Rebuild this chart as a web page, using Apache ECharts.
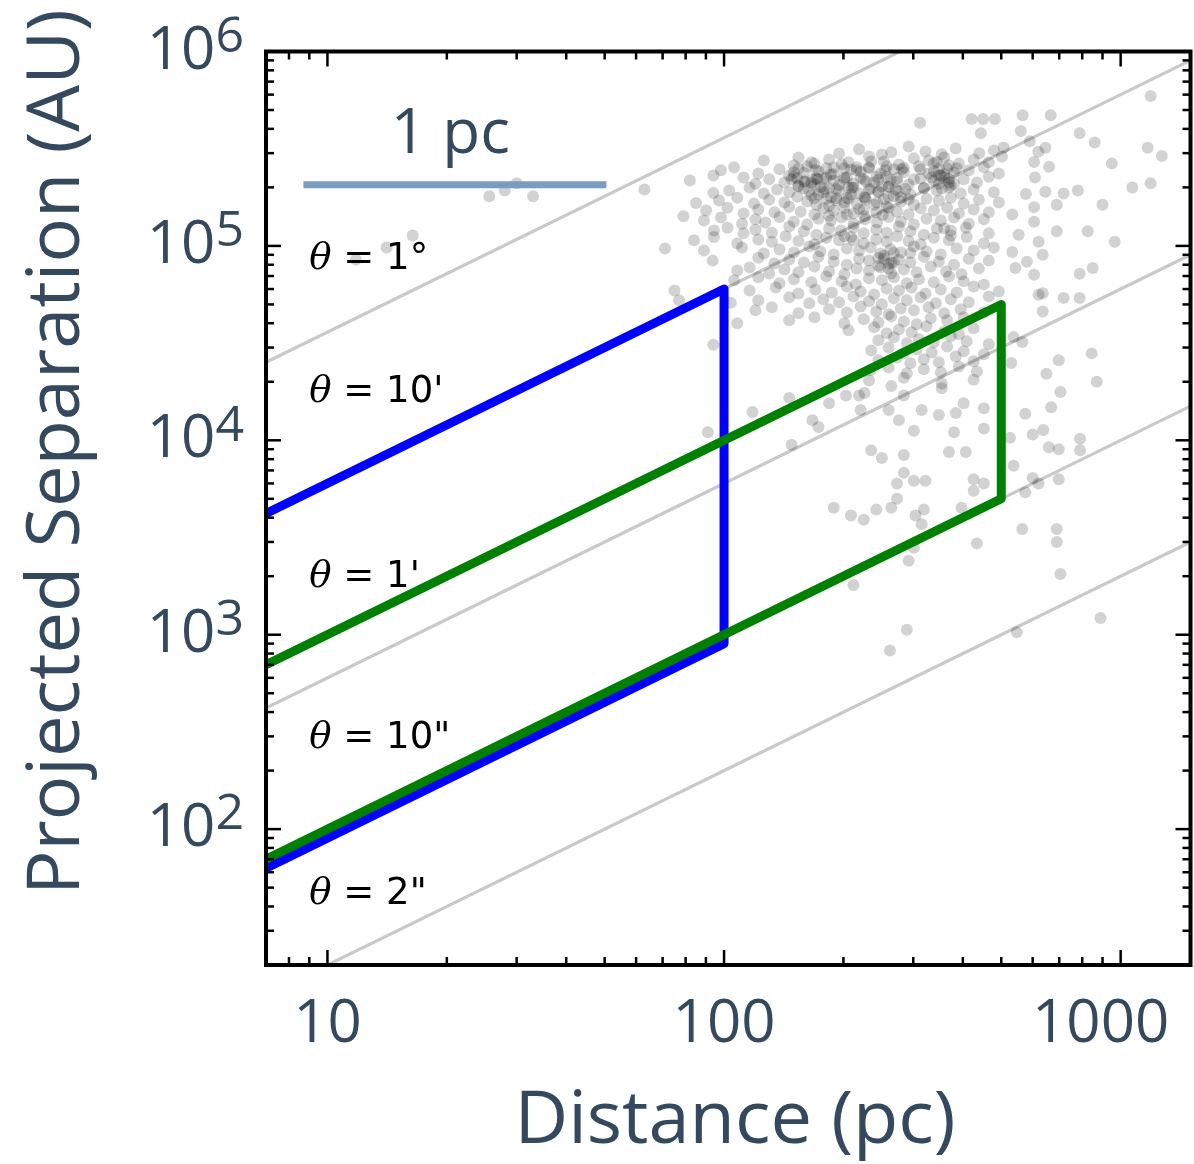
<!DOCTYPE html>
<html><head><meta charset="utf-8">
<script src="https://cdn.jsdelivr.net/npm/echarts@6/dist/echarts.min.js"></script>
<style>html,body{margin:0;padding:0;background:#fff}#c{width:1194px;height:1164px}</style>
</head><body><div id="c"></div>
<script>
// ---- axis ranges and ticks ----
const X_MIN = 7, X_MAX = 1500, Y_MIN = 20, Y_MAX = 1e6;
const xMajorTicks = [10, 100, 1000];
const xTickLabels = ['10', '100', '1000'];
const xMinorTicks = [7, 8, 9, 20, 30, 40, 50, 60, 70, 80, 90, 200, 300, 400, 500, 600, 700, 800, 900];
const yMajorTicks = [1e2, 1e3, 1e4, 1e5, 1e6];
const yTickExponents = ['2', '3', '4', '5', '6'];
const yMinorTicks = [20, 30, 40, 50, 60, 70, 80, 90, 200, 300, 400, 500, 600, 700, 800, 900,
  2000, 3000, 4000, 5000, 6000, 7000, 8000, 9000, 2e4, 3e4, 4e4, 5e4, 6e4, 7e4, 8e4, 9e4,
  2e5, 3e5, 4e5, 5e5, 6e5, 7e5, 8e5, 9e5];

// ---- constant-angle reference lines (distance pc, separation AU) ----
const angleLabels = ['1°', "10'", "1'", '10"', '2"'];
const angleLines = [
  [[7, 25200], [1500, 5.4e6]],
  [[7, 4200], [1500, 9.0e5]],
  [[7, 420], [1500, 9.0e4]],
  [[7, 70], [1500, 1.5e4]],
  [[7, 14], [1500, 3000]]
];
const angleLabelPos = [[9.0, 8.52e4], [9.0, 1.77e4], [9.0, 1976], [9.0, 294], [9.0, 46.3]];

// ---- survey boxes ----
const blueBox = [[7, 4200], [100, 6.0e4], [100, 900], [7, 63]];
const greenBox = [[7, 700], [500, 5.0e4], [500, 5000], [7, 70]];

// ---- 1 pc scale bar ----
const scaleBar = [[8.7, 206265], [50.5, 206265]];
const scaleLabel = '1 pc';
const scaleLabelPos = [[20.4, 3.7e5]];

// ---- stars: [distance pc, projected separation AU] ----
const starPairs = [
[1190,5.9e5],[312,4.3e5],[421,4.5e5],[450,4.5e5],[482,4.5e5],[566,4.7e5],[666,4.7e5],[444,3.8e5],[788,3.8e5],[860,3.4e5],[1170,3.2e5],[1270,2.9e5],[950,2.65e5],[1190,2.1e5],[1070,2.0e5],[718,1.86e5],[780,1.93e5],[900,1.63e5],[690,1.63e5],[826,1.19e5],[690,1.19e5],[966,1.05e5],[850,7.7e4],[788,7.2e4],[788,5.4e4],[718,5.4e4],[636,5.7e4],
[560,3.9e5],[590,3.45e5],[620,3.05e5],[646,3.2e5],[605,2.7e5],[660,2.55e5],[608,2.25e5],[646,1.9e5],[577,1.85e5],[605,1.58e5],[533,1.45e5],[605,1.33e5],[553,1.14e5],[621,1.05e5],[636,9.0e4],[580,8.3e4],[605,7.1e4],[533,9.3e4],[543,7.7e4],[621,5.6e4],[636,4.6e4],
[25.6,1.8e5],[28,1.93e5],[30,2.1e5],[33,1.8e5],[16.4,1.13e5],[14.1,9.8e4],[11.8,8.5e4],
[63,1.95e5],[82,2.17e5],[94,2.3e5],[94,1.87e5],[85,1.66e5],[79,1.42e5],[71,9.7e4],[75,5.9e4],[77,5.25e4],[94,3.1e4],[108,4.0e4],[104,5.1e4],
[219,1.7e4],[226,1.75e4],[221,1.43e4],[260,1.43e4],[264,1.9e4],[284,1.7e4],[276,1.27e4],[301,1.12e4],[315,1.43e4],[348,1.35e4],[384,1.38e4],[380,1.1e4],[452,1.15e4],[452,1.46e4],[402,1.55e4],[354,1.85e4],[526,1.03e4],[575,1.37e4],[600,1.07e4],[638,1.13e4],[659,9.2e3],[698,9.0e3],[790,1.02e4],[790,8.9e3],[668,1.48e4],[705,1.77e4],[698,2.58e4],[845,2.8e4],[870,2.0e4],[650,2.2e4],[530,2.5e4],[537,3.4e4],[565,3.2e4],
[235,8.9e3],[250,8.1e3],[284,8.4e3],[369,8.7e3],[407,8.7e3],[284,6.8e3],[301,6.2e3],[322,6.2e3],[273,6.0e3],[426,6.3e3],[452,6.0e3],[426,5.5e3],[600,6.4e3],[621,6.0e3],[575,5.4e3],[698,6.3e3],[537,7.4e3],
[189,4.5e3],[209,4.1e3],[225,3.9e3],[242,4.4e3],[264,4.5e3],[273,5.0e3],[304,4.1e3],[315,3.7e3],[319,4.4e3],[397,4.5e3],[292,2.4e3],[301,2.8e3],[434,2.95e3],[565,3.5e3],[690,3.5e3],[690,3.0e3],[212,1.8e3],[705,2.05e3],[289,1.06e3],[262,830],[547,1.03e3],[890,1.22e3],
[91,1.1e4],[118,1.4e4],[146,1.65e4],[148,9.5e3],[167,1.27e4],[173,1.17e4],[184,1.55e4],[203,1.7e4],
[195,2.99e5],[219,3.14e5],[250,2.95e5],[264,3.03e5],[292,3.25e5],[322,3.06e5],[354,2.96e5],[384,3.17e5],[440,3.0e5],[479,3.1e5],[507,3.21e5],
[126,2.75e5],[154,2.85e5],[169,2.65e5],[184,2.78e5],[206,2.69e5],[232,2.88e5],[253,2.72e5],[276,2.62e5],[301,2.82e5],[328,2.75e5],[359,2.85e5],[391,2.65e5],[426,2.78e5],[465,2.69e5],[502,2.88e5],
[150,2.6e5],[166,2.69e5],[181,2.51e5],[198,2.63e5],[216,2.54e5],[235,2.72e5],[257,2.57e5],[281,2.48e5],[338,2.66e5],[369,2.6e5],
[98.2,2.45e5],[106,2.54e5],[122,2.36e5],[138,2.48e5],[150,2.39e5],[162,2.57e5],[173,2.42e5],[189,2.34e5],[201,2.51e5],[216,2.45e5],[232,2.54e5],[248,2.36e5],[268,2.48e5],[284,2.39e5],[310,2.57e5],[338,2.42e5],[359,2.34e5],[386,2.51e5],[414,2.45e5],[452,2.54e5],[493,2.36e5],
[146,2.3e5],[159,2.38e5],[171,2.22e5],[186,2.33e5],[204,2.25e5],[221,2.41e5],[242,2.27e5],[263,2.19e5],[328,2.36e5],[352,2.3e5],[380,2.38e5],
[112,2.25e5],[120,2.09e5],[130,2.2e5],[142,2.12e5],[150,2.27e5],[159,2.14e5],[169,2.07e5],[178,2.22e5],[189,2.17e5],[201,2.25e5],[212,2.09e5],[225,2.2e5],[239,2.12e5],[257,2.27e5],[273,2.14e5],[292,2.07e5],[313,2.22e5],[338,2.17e5],[359,2.25e5],[380,2.09e5],[402,2.2e5],[434,2.12e5],[465,2.27e5],
[154,2.04e5],[166,2.11e5],[179,1.97e5],[195,2.06e5],[210,1.99e5],[228,2.14e5],[250,2.02e5],[271,1.95e5],[348,2.09e5],[373,2.04e5],
[103,1.93e5],[116,2.0e5],[126,1.86e5],[136,1.95e5],[146,1.89e5],[154,2.02e5],[164,1.91e5],[173,1.84e5],[184,1.98e5],[195,1.93e5],[206,2.0e5],[219,1.86e5],[232,1.95e5],[245,1.89e5],[260,2.02e5],[276,1.91e5],[295,1.84e5],[319,1.98e5],[344,1.93e5],[369,2.0e5],[395,1.86e5],[426,1.95e5],[479,1.89e5],
[166,1.82e5],[178,1.89e5],[192,1.76e5],[209,1.84e5],[226,1.78e5],[245,1.91e5],[268,1.8e5],[292,1.74e5],
[97.1,1.71e5],[108,1.77e5],[119,1.65e5],[130,1.73e5],[142,1.67e5],[153,1.79e5],[162,1.69e5],[171,1.63e5],[181,1.75e5],[192,1.71e5],[204,1.77e5],[216,1.65e5],[228,1.73e5],[243,1.67e5],[260,1.79e5],[279,1.69e5],[301,1.63e5],[324,1.75e5],[348,1.71e5],[373,1.77e5],[402,1.65e5],[439,1.73e5],[493,1.67e5],
[184,1.61e5],[201,1.67e5],[219,1.55e5],[239,1.63e5],[260,1.57e5],
[90.1,1.52e5],[102,1.57e5],[112,1.47e5],[122,1.54e5],[134,1.49e5],[146,1.59e5],[156,1.5e5],[169,1.45e5],[178,1.56e5],[189,1.52e5],[201,1.57e5],[212,1.47e5],[225,1.54e5],[242,1.49e5],[257,1.59e5],[273,1.5e5],[292,1.45e5],[313,1.56e5],[338,1.52e5],[365,1.57e5],[391,1.47e5],[426,1.54e5],[465,1.49e5],
[89,1.35e5],[98.2,1.4e5],[111,1.3e5],[120,1.37e5],[127,1.32e5],[138,1.41e5],[150,1.33e5],[162,1.29e5],[173,1.38e5],[186,1.35e5],[198,1.4e5],[212,1.3e5],[227,1.37e5],[243,1.32e5],[260,1.41e5],[279,1.33e5],[301,1.29e5],[324,1.38e5],[352,1.35e5],[380,1.4e5],[414,1.3e5],[452,1.37e5],
[94.3,1.2e5],[102,1.24e5],[112,1.16e5],[120,1.21e5],[132,1.17e5],[146,1.26e5],[159,1.19e5],[171,1.14e5],[184,1.23e5],[197,1.2e5],[212,1.24e5],[225,1.16e5],[242,1.21e5],[257,1.17e5],[276,1.26e5],[295,1.19e5],[319,1.14e5],[344,1.23e5],[373,1.2e5],[407,1.24e5],[465,1.16e5],
[84,1.07e5],[94.3,1.11e5],[108,1.03e5],[122,1.08e5],[132,1.05e5],[143,1.12e5],[154,1.06e5],[169,1.02e5],[181,1.1e5],[195,1.07e5],[209,1.11e5],[225,1.03e5],[242,1.08e5],[257,1.05e5],[273,1.12e5],[292,1.06e5],[313,1.02e5],[338,1.1e5],[369,1.07e5],[409,1.11e5],[452,1.03e5],
[89,9.48e4],[111,9.82e4],[126,9.15e4],[138,9.59e4],[150,9.26e4],[164,9.94e4],[175,9.37e4],[189,9.04e4],[204,9.71e4],[219,9.48e4],[234,9.82e4],[248,9.15e4],[263,9.59e4],[279,9.26e4],[301,9.94e4],[324,9.37e4],[352,9.04e4],[386,9.71e4],[426,9.48e4],[479,9.82e4],
[253,8.9e4],[268,9.22e4],[295,9.2e4],
[93.6,8.4e4],[122,8.7e4],[134,8.11e4],[146,8.5e4],[159,8.21e4],[173,8.8e4],[189,8.3e4],[204,8.01e4],[219,8.6e4],[232,8.4e4],[245,8.7e4],[260,8.11e4],[276,8.5e4],[295,8.21e4],[319,8.8e4],[348,8.3e4],[380,8.01e4],[414,8.6e4],[465,8.4e4],
[245,7.9e4],[264,8.18e4],
[108,7.48e4],[116,7.75e4],[130,7.22e4],[142,7.57e4],[154,7.31e4],[169,7.84e4],[184,7.39e4],[201,7.14e4],[216,7.66e4],[232,7.48e4],[248,7.75e4],[264,7.22e4],[284,7.57e4],[306,7.31e4],[332,7.84e4],[363,7.39e4],[397,7.14e4],[439,7.66e4],
[106,6.65e4],[122,6.89e4],[138,6.42e4],[150,6.73e4],[166,6.5e4],[181,6.97e4],[198,6.57e4],[215,6.34e4],[232,6.81e4],[250,6.65e4],[268,6.89e4],[289,6.42e4],[310,6.73e4],[338,6.5e4],[369,6.97e4],[402,6.57e4],[452,6.34e4],
[116,5.9e4],[135,6.11e4],[154,5.69e4],[170,5.97e4],[187,5.76e4],[204,6.18e4],[221,5.83e4],[239,5.63e4],[257,6.04e4],[276,5.9e4],[297,6.11e4],[322,5.69e4],[352,5.97e4],[386,5.76e4],[426,6.18e4],[493,5.83e4],
[122,5.25e4],[146,5.44e4],[164,5.07e4],[178,5.31e4],[195,5.13e4],[212,5.5e4],[232,5.19e4],[250,5.01e4],[268,5.38e4],[289,5.25e4],[313,5.44e4],[342,5.07e4],[373,5.31e4],[414,5.13e4],[465,5.5e4],
[120,4.66e4],[132,4.83e4],[154,4.5e4],[184,4.72e4],[204,4.55e4],[221,4.88e4],[242,4.6e4],[260,4.45e4],[279,4.77e4],[301,4.66e4],[328,4.83e4],[359,4.5e4],[395,4.72e4],[452,4.55e4],
[146,4.14e4],[169,4.29e4],[201,4.0e4],[225,4.19e4],[245,4.04e4],[264,4.34e4],[284,4.09e4],[306,3.95e4],[332,4.24e4],[365,4.14e4],[402,4.29e4],
[206,3.68e4],[239,3.81e4],[257,3.55e4],[276,3.72e4],[297,3.6e4],[324,3.86e4],[359,3.64e4],[391,3.51e4],[426,3.77e4],
[245,3.27e4],[268,3.39e4],[289,3.16e4],[310,3.31e4],[338,3.19e4],[373,3.43e4],[409,3.23e4],[465,3.12e4],
[235,2.9e4],[260,3.0e4],[284,2.8e4],[306,2.93e4],[334,2.83e4],[365,3.04e4],[402,2.87e4],[452,2.77e4],
[245,2.58e4],[273,2.67e4],[295,2.49e4],[319,2.61e4],[348,2.52e4],[384,2.7e4],[426,2.55e4],
[234,2.29e4],[260,2.37e4],[289,2.21e4],[319,2.32e4],[352,2.24e4],[391,2.4e4],[434,2.26e4],
[232,2.03e4],[284,2.1e4],[354,1.96e4],[426,2.05e4],
[344,2.7e5],[365,2.5e5],[348,2.3e5],[369,2.12e5],[148,2.2e5],[160,2.15e5],[172,2.2e5],
[154,2.5e5],[170,2.46e5],[189,2.53e5],[209,2.47e5],[232,2.51e5],[255,2.45e5],[284,2.52e5],[313,2.48e5],[348,2.5e5],
[153,2.22e5],[167,2.18e5],[181,2.25e5],[201,2.2e5],[221,2.24e5],[245,2.19e5],[273,2.23e5],[301,2.2e5],[334,2.25e5],[369,2.21e5],
[159,1.98e5],[175,2.01e5],[192,1.96e5],[212,2.0e5],[234,1.97e5],[260,2.01e5],[287,1.96e5],[319,1.99e5],[354,1.97e5],
[169,1.76e5],[186,1.78e5],[206,1.75e5],[227,1.77e5],[253,1.74e5],[279,1.78e5],
[184,1.43e5],[204,1.45e5],[226,1.42e5],[251,1.44e5],
[201,1.12e5],[212,1.07e5],[253,8.6e4],[268,8.2e4],[260,7.65e4],[359,1.23e5],[373,1.13e5]
];

// ---- styles ----
const SLATE = '#34495e';
const FONT = "'Open Sans', 'Noto Sans', sans-serif";

function matchIdx(ticks, v) {
  return ticks.findIndex(t => Math.abs(v / t - 1) < 1e-6);
}

function tickSeries(vals, axis, len) {
  return {
    type: 'custom', coordinateSystem: 'cartesian2d', silent: true, clip: false, z: 20,
    data: vals.map(v => axis === 'x' ? [v, Y_MIN] : [X_MIN, v]),
    encode: {x: 0, y: 1},
    renderItem: function (params, api) {
      const cs = params.coordSys;
      const p = api.coord([api.value(0), api.value(1)]);
      const st = {stroke: '#000', lineWidth: 2.5};
      if (axis === 'x') {
        return {type: 'group', children: [
          {type: 'line', shape: {x1: p[0], y1: cs.y + cs.height, x2: p[0], y2: cs.y + cs.height - len}, style: st},
          {type: 'line', shape: {x1: p[0], y1: cs.y, x2: p[0], y2: cs.y + len}, style: st}
        ]};
      }
      return {type: 'group', children: [
        {type: 'line', shape: {x1: cs.x, y1: p[1], x2: cs.x + len, y2: p[1]}, style: st},
        {type: 'line', shape: {x1: cs.x + cs.width, y1: p[1], x2: cs.x + cs.width - len, y2: p[1]}, style: st}
      ]};
    }
  };
}

function textSeries(positions, textFn, styleBase) {
  return {
    type: 'custom', coordinateSystem: 'cartesian2d', silent: true, clip: false, z: 40,
    data: positions, encode: {x: 0, y: 1},
    renderItem: function (params, api) {
      const p = api.coord([api.value(0), api.value(1)]);
      return {type: 'text', x: p[0], y: p[1],
        style: Object.assign({text: textFn(params.dataIndex)}, styleBase)};
    }
  };
}

const series = [];
series.push({
  type: 'scatter', data: starPairs, symbol: 'circle', symbolSize: 12, z: 2, silent: true,
  itemStyle: {color: 'rgba(0,0,0,0.22)'}
});
angleLines.forEach(function (seg) {
  series.push({type: 'line', data: seg, showSymbol: false, symbol: 'none', z: 3, silent: true,
    lineStyle: {color: 'rgba(0,0,0,0.21)', width: 3.2}});
});
series.push({type: 'line', data: blueBox, symbol: 'none', z: 5, silent: true,
  lineStyle: {color: '#0000ff', width: 9, join: 'round'}});
series.push({type: 'line', data: greenBox, symbol: 'none', z: 6, silent: true,
  lineStyle: {color: '#008000', width: 9, join: 'round'}});
series.push({type: 'line', data: scaleBar, symbol: 'none', z: 5, silent: true,
  lineStyle: {color: '#7b9bc1', width: 7, cap: 'butt'}});
series.push(textSeries(angleLabelPos,
  function (i) { return '{t|θ}{n| = ' + angleLabels[i] + '}'; },
  {align: 'left', verticalAlign: 'middle',
    rich: {
      t: {fontFamily: "'DejaVu Serif', serif", fontStyle: 'italic', fontSize: 37, fill: '#000'},
      n: {fontFamily: "'DejaVu Sans', sans-serif", fontSize: 37, fill: '#000'}
    }}));
series.push(textSeries(scaleLabelPos, function () { return scaleLabel; },
  {align: 'center', verticalAlign: 'middle', fontSize: 62, fontFamily: FONT, fill: SLATE}));
series.push(tickSeries(xMajorTicks, 'x', 15));
series.push(tickSeries(xMinorTicks, 'x', 8));
series.push(tickSeries(yMajorTicks, 'y', 15));
series.push(tickSeries(yMinorTicks, 'y', 8));
series.push({
  type: 'custom', coordinateSystem: 'cartesian2d', silent: true, clip: false, z: 30,
  data: [[X_MIN, Y_MIN]],
  renderItem: function (params) {
    const cs = params.coordSys;
    return {type: 'rect', shape: {x: cs.x, y: cs.y, width: cs.width, height: cs.height},
      style: {fill: 'none', stroke: '#000', lineWidth: 4}};
  }
});

const option = {
  animation: false,
  backgroundColor: '#fff',
  grid: {left: 266, right: 3.5, top: 51.5, bottom: 199, containLabel: false, outerBoundsMode: 'none'},
  xAxis: {
    type: 'log', logBase: 10, min: X_MIN, max: X_MAX,
    axisLine: {show: false}, axisTick: {show: false}, splitLine: {show: false},
    axisLabel: {
      margin: 30, showMinLabel: false, showMaxLabel: false,
      formatter: function (v) {
        const i = matchIdx(xMajorTicks, v);
        if (i < 0) return '';
        return (i === 2 ? '{w|' : '{n|') + xTickLabels[i] + '}';
      },
      rich: {
        n: {fontSize: 60, fontFamily: FONT, color: SLATE},
        w: {fontSize: 60, fontFamily: FONT, color: SLATE, padding: [0, 40, 0, 0]}
      }
    }
  },
  yAxis: {
    type: 'log', logBase: 10, min: Y_MIN, max: Y_MAX,
    axisLine: {show: false}, axisTick: {show: false}, splitLine: {show: false},
    axisLabel: {
      margin: 22, showMinLabel: false,
      formatter: function (v) {
        const i = matchIdx(yMajorTicks, v);
        if (i < 0) return '';
        return '{b|10}{s|' + yTickExponents[i] + '}';
      },
      rich: {
        b: {fontSize: 60, fontFamily: FONT, color: SLATE},
        s: {fontSize: 50, fontFamily: FONT, color: SLATE, padding: [0, 0, 28, 0]}
      }
    }
  },
  graphic: [
    {type: 'text', x: 735, y: 1122, z: 50,
      style: {text: 'Distance (pc)', fontSize: 74, fontFamily: FONT, fill: SLATE, align: 'center', verticalAlign: 'middle'}},
    {type: 'text', x: 58, y: 452, rotation: Math.PI / 2, z: 50,
      style: {text: 'Projected Separation (AU)', fontSize: 74, fontFamily: FONT, fill: SLATE, align: 'center', verticalAlign: 'middle'}}
  ],
  series: series
};

const chart = echarts.init(document.getElementById('c'), null, {renderer: 'canvas'});
chart.setOption(option);
</script>
</body></html>
